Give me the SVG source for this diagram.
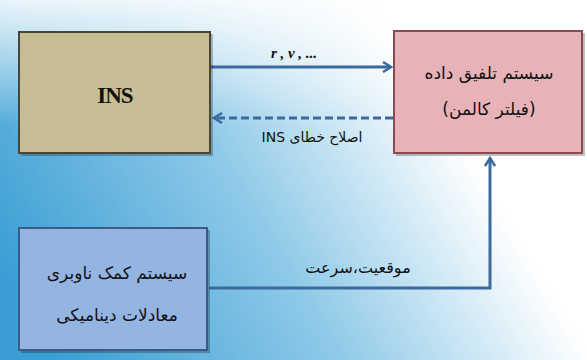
<svg xmlns="http://www.w3.org/2000/svg" width="587" height="360" viewBox="0 0 587 360">
<style>
.box{stroke-width:2}
.shadow{fill:#000;opacity:0.25}
.fa{font-family:"DejaVu Sans",sans-serif;fill:#111;text-anchor:middle;direction:rtl}
.fa-box{font-size:17px}
.fa-lbl{font-size:14px}
.fa-pos{font-size:16px}
.en{font-family:"Liberation Serif",serif;font-weight:bold;fill:#111;text-anchor:middle}
.conn{fill:none;stroke:#3d6a9e;stroke-width:3}
</style>
<defs>
<linearGradient id="bg" x1="0" y1="0.75" x2="0.95" y2="0.4">
<stop offset="0" stop-color="#3a9ed4"/>
<stop offset="0.45" stop-color="#8ec9e8"/>
<stop offset="0.85" stop-color="#ffffff"/>
</linearGradient>
<linearGradient id="topfade" x1="0" y1="0" x2="0" y2="1">
<stop offset="0" stop-color="#ffffff" stop-opacity="0.85"/>
<stop offset="0.35" stop-color="#ffffff" stop-opacity="0"/>
</linearGradient>
<marker id="ah" viewBox="0 0 12 12" refX="10" refY="6" markerWidth="4" markerHeight="4" orient="auto" markerUnits="strokeWidth">
<path d="M2,1 L10,6 L2,11" fill="none" stroke="#3d6a9e" stroke-width="2.5"/>
</marker>
</defs>
<rect width="587" height="360" fill="url(#bg)"/>
<rect width="587" height="360" fill="url(#topfade)"/>
<g id="connectors">
<line class="conn" x1="211" y1="67" x2="391" y2="67" marker-end="url(#ah)"/>
<line class="conn" x1="393" y1="118" x2="214" y2="118" stroke-dasharray="8,4" marker-end="url(#ah)"/>
<polyline class="conn" points="209,288 490,288 490,158" marker-end="url(#ah)"/>
<text class="en" x="294" y="58" font-size="15" font-style="italic">r , v , ...</text>
<text class="fa fa-lbl" x="312" y="142">اصلاح خطای INS</text>
<text class="fa fa-pos" x="358" y="273">موقعیت،سرعت</text>
</g>
<g id="ins">
<rect class="shadow" x="21" y="34" width="192" height="122"/>
<rect class="box" x="19" y="32" width="191" height="121" fill="#c7bd94" stroke="#4a4636"/>
<text class="en" x="115" y="103" font-size="23" letter-spacing="-1">INS</text>
</g>
<g id="fusion">
<rect class="shadow" x="396" y="33" width="189" height="123"/>
<rect class="box" x="394" y="31" width="188" height="122" fill="#e8b3b8" stroke="#8a4a50"/>
<text class="fa fa-box" x="489" y="79">سیستم تلفیق داده</text>
<text class="fa fa-box" x="489" y="115">(فیلتر کالمن)</text>
</g>
<g id="aid">
<rect class="shadow" x="21" y="230" width="189" height="123"/>
<rect class="box" x="19" y="228" width="188" height="122" fill="#94b4e2" stroke="#3d5a86"/>
<text class="fa fa-box" x="117" y="279">سیستم کمک ناوبری</text>
<text class="fa fa-box" x="117" y="321">معادلات دینامیکی</text>
</g>
</svg>
